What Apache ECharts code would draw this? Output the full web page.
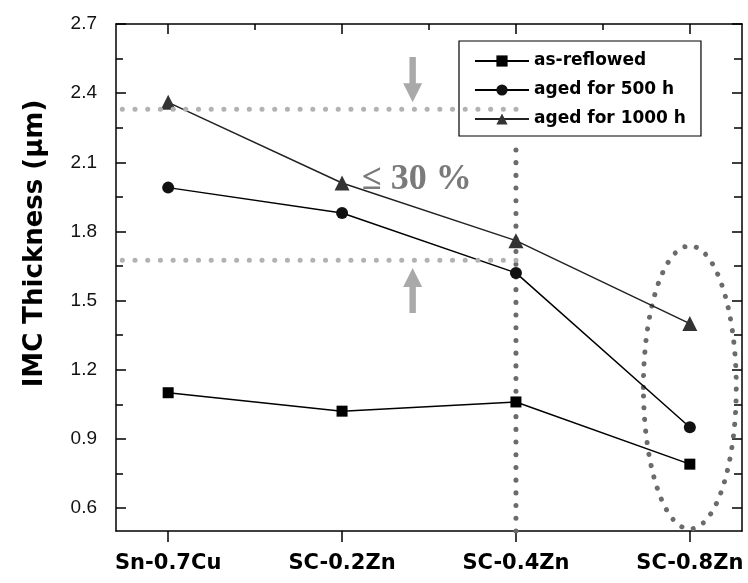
<!DOCTYPE html>
<html>
<head>
<meta charset="utf-8">
<script src="https://cdn.jsdelivr.net/npm/echarts@6/dist/echarts.min.js"></script>
<style>
html, body { margin: 0; padding: 0; background: #fff; }
#chart { width: 748px; height: 583px; }
</style>
</head>
<body>
<div id="chart"></div>
<script>
// 数据
var categories = ['Sn-0.7Cu', 'SC-0.2Zn', 'SC-0.4Zn', 'SC-0.8Zn'];
var asReflowed = [1.10, 1.02, 1.06, 0.79];
var aged500 = [1.99, 1.88, 1.62, 0.95];
var aged1000 = [2.36, 2.01, 1.76, 1.40];

// 刻度
var yTicks = [0.6, 0.9, 1.2, 1.5, 1.8, 2.1, 2.4, 2.7];
var yMinorTicks = [0.75, 1.05, 1.35, 1.65, 1.95, 2.25, 2.55];
var xTicks = [0, 1, 2, 3];
var xMinorTicks = [0.5, 1.5, 2.5];

// 标注
var guideUpper = [[-0.41, 2.33], [2.07, 2.33]];
var guideLower = [[-0.41, 1.675], [2.07, 1.675]];
var guideVertical = [[2, 0.5], [2, 2.17]];
var arrows = [[1.406, 2.557, 2.36], [1.406, 1.446, 1.641]]; // x, 尾, 尖
var ellipse = [[3, 1.123, 0.267, 0.614]]; // 中心x, 中心y, 半轴x, 半轴y

function toPoints(arr) {
	return arr.map(function(v, i) { return [i, v]; });
}

var myChart = echarts.init(document.getElementById('chart'));

var axisLineStyle = { color: '#000', width: 1.5 };

var dotStyle = function(color) {
	return { color: color, width: 5, type: [0.1, 12.6], cap: 'round' };
};

var option = {
	animation: false,
	backgroundColor: '#fff',
	grid: { left: 116, right: 6, top: 24, bottom: 52, outerBoundsMode: 'none' },
	legend: {
		data: ['as-reflowed', 'aged for 500 h', 'aged for 1000 h'],
		orient: 'vertical',
		left: 459,
		top: 41,
		backgroundColor: '#fff',
		borderColor: '#000',
		borderWidth: 1.2,
		borderRadius: 0,
		padding: [10, 15, 7, 15],
		itemWidth: 54,
		itemHeight: 14,
		itemGap: 9,
		textStyle: { fontFamily: 'DejaVu Sans', fontWeight: 'bold', fontSize: 17, color: '#000', lineHeight: 20 }
	},
	xAxis: [
		{
			type: 'value', position: 'bottom', min: -0.3, max: 3.3,
			axisLine: { onZero: false, lineStyle: axisLineStyle },
			axisTick: { customValues: xTicks, inside: false, length: 11, lineStyle: axisLineStyle },
			axisLabel: {
				customValues: xTicks, margin: 22, fontSize: 21,
				fontFamily: 'DejaVu Sans', fontWeight: 'bold', color: '#000',
				formatter: function(v) { return categories[Math.round(v)]; }
			},
			splitLine: { show: false }
		},
		{
			type: 'value', position: 'top', min: -0.3, max: 3.3,
			axisLine: { onZero: false, lineStyle: axisLineStyle },
			axisTick: { customValues: xTicks, inside: true, length: 10, lineStyle: axisLineStyle },
			axisLabel: { show: false },
			splitLine: { show: false }
		},
		{
			type: 'value', position: 'top', min: -0.3, max: 3.3,
			axisLine: { show: false, onZero: false },
			axisTick: { customValues: xMinorTicks, inside: true, length: 6, lineStyle: axisLineStyle },
			axisLabel: { show: false },
			splitLine: { show: false }
		}
	],
	yAxis: [
		{
			type: 'value', position: 'left', min: 0.5, max: 2.7,
			name: 'IMC Thickness (μm)',
			nameLocation: 'middle',
			nameGap: 68,
			nameTextStyle: { fontFamily: 'DejaVu Sans', fontWeight: 'bold', fontSize: 26, color: '#000', padding: [0, 0, 0, 68] },
			axisLine: { show: true, onZero: false, lineStyle: axisLineStyle },
			axisTick: { customValues: yTicks, inside: true, length: 10, lineStyle: axisLineStyle },
			axisLabel: {
				customValues: yTicks, margin: 19, fontSize: 19,
				fontFamily: 'Liberation Sans', color: '#111',
				formatter: function(v) { return v.toFixed(1); }
			},
			splitLine: { show: false }
		},
		{
			type: 'value', position: 'left', min: 0.5, max: 2.7,
			axisLine: { show: false, onZero: false },
			axisTick: { customValues: yMinorTicks, inside: true, length: 7, lineStyle: axisLineStyle },
			axisLabel: { show: false },
			splitLine: { show: false }
		},
		{
			type: 'value', position: 'right', min: 0.5, max: 2.7,
			axisLine: { show: true, onZero: false, lineStyle: axisLineStyle },
			axisTick: { customValues: yTicks, inside: true, length: 10, lineStyle: axisLineStyle },
			axisLabel: { show: false },
			splitLine: { show: false }
		},
		{
			type: 'value', position: 'right', min: 0.5, max: 2.7,
			axisLine: { show: false, onZero: false },
			axisTick: { customValues: yMinorTicks, inside: true, length: 8, lineStyle: axisLineStyle },
			axisLabel: { show: false },
			splitLine: { show: false }
		}
	],
	graphic: [
		{
			type: 'text', left: 362, top: 162, z: 10,
			style: { text: '≤ 30 %', fontFamily: 'Liberation Serif', fontWeight: 'bold', fontSize: 36, fill: '#7a7a7a' }
		}
	],
	series: [
		{
			name: 'guideUpper', type: 'line', data: guideUpper, symbol: 'none', clip: false, z: 5, silent: true,
			lineStyle: dotStyle('#b2b2b2')
		},
		{
			name: 'guideLower', type: 'line', data: guideLower, symbol: 'none', clip: false, z: 5, silent: true,
			lineStyle: dotStyle('#b2b2b2')
		},
		{
			name: 'guideVertical', type: 'line', data: guideVertical, symbol: 'none', clip: false, z: 1, silent: true,
			lineStyle: dotStyle('#6b6b6b')
		},
		{
			name: 'arrows', type: 'custom', data: arrows, z: 3, silent: true,
			encode: { x: 0, y: [1, 2] },
			renderItem: function(params, api) {
				var tail = api.coord([api.value(0), api.value(1)]);
				var tip = api.coord([api.value(0), api.value(2)]);
				var dir = tip[1] > tail[1] ? 1 : -1;
				var base = tip[1] - dir * 19;
				var x = tip[0];
				return {
					type: 'polygon',
					shape: { points: [
						[x - 3.2, tail[1]], [x + 3.2, tail[1]], [x + 3.2, base], [x + 9.5, base],
						[x, tip[1]], [x - 9.5, base], [x - 3.2, base]
					] },
					style: { fill: '#a9a9a9' }
				};
			}
		},
		{
			name: 'ellipse', type: 'custom', data: ellipse, z: 1, silent: true,
			encode: { x: 0, y: 1 },
			renderItem: function(params, api) {
				var c = api.coord([api.value(0), api.value(1)]);
				var e = api.coord([api.value(0) + api.value(2), api.value(1) + api.value(3)]);
				return {
					type: 'ellipse',
					shape: { cx: c[0], cy: c[1], rx: Math.abs(e[0] - c[0]), ry: Math.abs(c[1] - e[1]) },
					style: { fill: 'none', stroke: '#6b6b6b', lineWidth: 5, lineDash: [0.1, 11.6], lineCap: 'round' }
				};
			}
		},
		{
			name: 'as-reflowed', type: 'line', data: toPoints(asReflowed), z: 3,
			symbol: 'rect', symbolSize: 11,
			itemStyle: { color: '#000' },
			lineStyle: { color: '#000', width: 1.5 }
		},
		{
			name: 'aged for 500 h', type: 'line', data: toPoints(aged500), z: 3,
			symbol: 'circle', symbolSize: 12,
			itemStyle: { color: '#111' },
			lineStyle: { color: '#000', width: 1.5 }
		},
		{
			name: 'aged for 1000 h', type: 'line', data: toPoints(aged1000), z: 3,
			symbol: 'triangle', symbolSize: 15,
			itemStyle: { color: '#333' },
			lineStyle: { color: '#222', width: 1.5 }
		}
	]
};

myChart.setOption(option);
window.onresize = myChart.resize;
</script>
</body>
</html>
